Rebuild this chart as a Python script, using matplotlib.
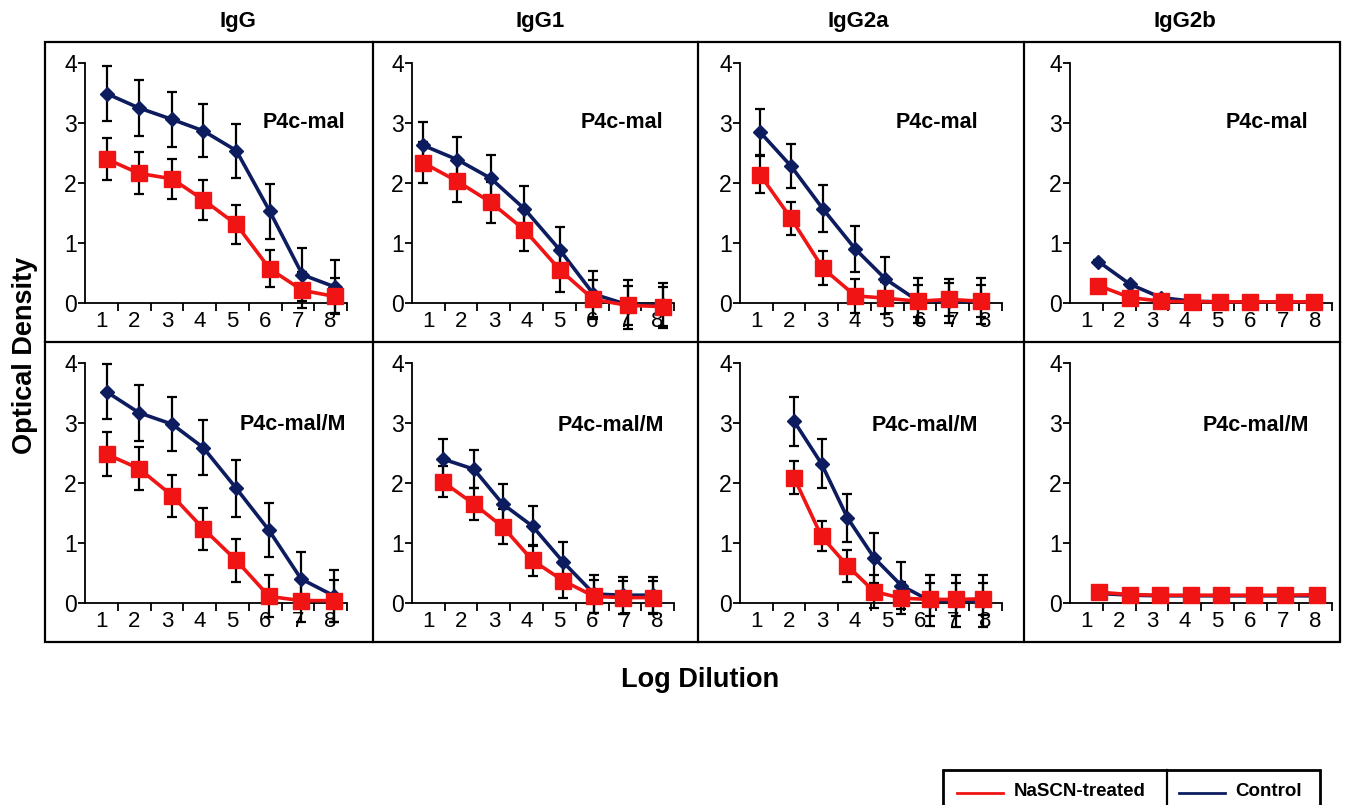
import matplotlib
matplotlib.use("Agg")
import matplotlib.pyplot as plt
from matplotlib.lines import Line2D
from matplotlib.patches import Rectangle

plt.rcParams['font.family'] = ['Liberation Sans', 'DejaVu Sans']

# isotype columns and antigen rows
isotypes = ["IgG", "IgG1", "IgG2a", "IgG2b"]
antigens = ["P4c-mal", "P4c-mal/M"]
dilution_labels = ["1", "2", "3", "4", "5", "6", "7", "8"]

# x position of the 8 points in each panel (per panel)
x_top = [
    [1.16, 2.15, 3.16, 4.11, 5.12, 6.14, 7.14, 8.12],
    [0.83, 1.88, 2.90, 3.93, 5.02, 6.04, 7.09, 8.17],
    [1.11, 2.06, 3.03, 4.02, 4.94, 5.92, 6.88, 7.86],
    [1.37, 2.34, 3.28, 4.22, 5.09, 6.01, 7.03, 7.95],
]
x_bottom = [
    [1.16, 2.15, 3.16, 4.11, 5.12, 6.12, 7.10, 8.10],
    [1.44, 2.39, 3.27, 4.18, 5.12, 6.06, 6.93, 7.85],
    [2.15, 2.99, 3.78, 4.60, 5.43, 6.29, 7.10, 7.92],
    [1.39, 2.34, 3.26, 4.19, 5.11, 6.13, 7.05, 8.05],
]

# control (blue) optical density and SEM
ctrl_top = [
    [3.49, 3.25, 3.06, 2.87, 2.54, 1.53, 0.47, 0.27],
    [2.63, 2.39, 2.08, 1.57, 0.88, 0.15, -0.03, -0.04],
    [2.85, 2.28, 1.57, 0.90, 0.40, 0.04, 0.03, 0.03],
    [0.69, 0.31, 0.09, 0.03, 0.02, 0.02, 0.02, 0.02],
]
ctrl_top_err = [
    [0.46, 0.46, 0.46, 0.44, 0.45, 0.46, 0.44, 0.44],
    [0.39, 0.38, 0.39, 0.38, 0.39, 0.39, 0.41, 0.37],
    [0.39, 0.37, 0.39, 0.39, 0.37, 0.38, 0.37, 0.38],
    [0.03, 0.03, 0.02, 0.02, 0.02, 0.02, 0.02, 0.02],
]
ctrl_bottom = [
    [3.52, 3.17, 2.98, 2.59, 1.91, 1.21, 0.40, 0.12],
    [2.40, 2.23, 1.65, 1.28, 0.68, 0.15, 0.13, 0.13],
    [3.03, 2.32, 1.42, 0.75, 0.29, 0.04, 0.03, 0.03],
    [0.16, 0.13, 0.12, 0.12, 0.12, 0.12, 0.12, 0.12],
]
ctrl_bottom_err = [
    [0.46, 0.47, 0.45, 0.46, 0.47, 0.45, 0.45, 0.43],
    [0.33, 0.32, 0.34, 0.33, 0.33, 0.32, 0.31, 0.30],
    [0.41, 0.41, 0.40, 0.42, 0.39, 0.42, 0.43, 0.43],
    [0.02, 0.02, 0.02, 0.02, 0.02, 0.02, 0.02, 0.02],
]

# NaSCN-treated (red) optical density and SEM
nascn_top = [
    [2.40, 2.16, 2.07, 1.72, 1.31, 0.57, 0.21, 0.11],
    [2.34, 2.03, 1.68, 1.22, 0.55, 0.06, -0.04, -0.06],
    [2.14, 1.41, 0.58, 0.12, 0.08, 0.03, 0.06, 0.03],
    [0.29, 0.09, 0.03, 0.02, 0.02, 0.02, 0.02, 0.02],
]
nascn_top_err = [
    [0.35, 0.35, 0.33, 0.33, 0.32, 0.31, 0.30, 0.30],
    [0.34, 0.35, 0.34, 0.35, 0.36, 0.33, 0.33, 0.33],
    [0.31, 0.28, 0.28, 0.28, 0.27, 0.27, 0.28, 0.27],
    [0.02, 0.02, 0.02, 0.02, 0.02, 0.02, 0.02, 0.02],
]
nascn_bottom = [
    [2.48, 2.24, 1.79, 1.24, 0.71, 0.11, 0.04, 0.04],
    [2.02, 1.65, 1.27, 0.71, 0.37, 0.11, 0.09, 0.09],
    [2.09, 1.11, 0.62, 0.19, 0.08, 0.06, 0.06, 0.07],
    [0.18, 0.14, 0.13, 0.13, 0.13, 0.13, 0.13, 0.14],
]
nascn_bottom_err = [
    [0.37, 0.36, 0.35, 0.35, 0.36, 0.35, 0.35, 0.35],
    [0.26, 0.26, 0.29, 0.26, 0.28, 0.27, 0.27, 0.27],
    [0.27, 0.25, 0.27, 0.28, 0.27, 0.27, 0.27, 0.27],
    [0.02, 0.02, 0.02, 0.02, 0.02, 0.02, 0.02, 0.02],
]

RED = "#f01414"
BLUE = "#0c1c5e"
W, H = 1360, 805

fig = plt.figure(figsize=(W / 100, H / 100), dpi=100)

col_left = [85, 412, 740, 1070]
row_top = [63, 363]
ax_w, ax_h = 262, 240
label_pos = [[(7.2, 3.0), (6.9, 3.0), (6.5, 3.0), (6.5, 3.0)],
             [(6.85, 2.97), (6.57, 2.96), (6.16, 2.96), (6.19, 2.96)]]

rows = [
    (x_top, ctrl_top, ctrl_top_err, nascn_top, nascn_top_err),
    (x_bottom, ctrl_bottom, ctrl_bottom_err, nascn_bottom, nascn_bottom_err),
]

for r, (xs, cy, ce, ny, ne) in enumerate(rows):
    for c in range(4):
        ax = fig.add_axes([col_left[c] / W, 1 - (row_top[r] + ax_h) / H,
                           ax_w / W, ax_h / H])
        ax.errorbar(xs[c], cy[c], yerr=ce[c], fmt="none", ecolor="black",
                    elinewidth=1.6, capsize=3.5, capthick=1.6, clip_on=False, zorder=2)
        ax.errorbar(xs[c], ny[c], yerr=ne[c], fmt="none", ecolor="black",
                    elinewidth=1.6, capsize=3.5, capthick=1.6, clip_on=False, zorder=2)
        ax.plot(xs[c], cy[c], color=BLUE, lw=2.6, marker="D", ms=7,
                clip_on=False, zorder=3)
        ax.plot(xs[c], ny[c], color=RED, lw=2.6, marker="s", ms=11,
                clip_on=False, zorder=4)

        ax.set_xlim(0.5, 8.5)
        ax.set_ylim(0, 4)
        for s in ["top", "right"]:
            ax.spines[s].set_visible(False)
        for s in ["left", "bottom"]:
            ax.spines[s].set_linewidth(1.3)
        ax.set_yticks([0, 1, 2, 3, 4])
        ax.set_xticks(range(1, 9))
        ax.set_xticklabels(dilution_labels)
        ax.set_xticks([1.5 + i for i in range(8)], minor=True)
        ax.tick_params(axis="x", which="major", length=0, pad=6, labelsize=16)
        ax.tick_params(axis="x", which="minor", length=6, width=1.3, direction="out")
        ax.tick_params(axis="y", length=5, width=1.3, pad=1, labelsize=16.5)
        ax.patch.set_alpha(0)
        tx, ty = label_pos[r][c]
        ax.text(tx, ty, antigens[r], ha="center", va="center",
                fontsize=15.5, fontweight="bold")

# table borders
fig.add_artist(Rectangle((45 / W, 1 - 642 / H), (1340 - 45) / W, 600 / H,
                         transform=fig.transFigure, fill=False, lw=1.6, ec="black"))
for xv in [373, 698, 1024]:
    fig.add_artist(Line2D([xv / W, xv / W], [1 - 42 / H, 1 - 642 / H],
                          transform=fig.transFigure, color="black", lw=1.6))
fig.add_artist(Line2D([45 / W, 1340 / W], [1 - 342 / H, 1 - 342 / H],
                      transform=fig.transFigure, color="black", lw=1.6))

# column titles
for name, xc in zip(isotypes, [238, 540, 858, 1185]):
    fig.text(xc / W, 1 - 22 / H, name, ha="center", va="center",
             fontsize=16, fontweight="bold")

fig.text(25 / W, 1 - 355 / H, "Optical Density", rotation=90, ha="center",
         va="center", fontsize=19.5, fontweight="bold")
fig.text(700 / W, 1 - 680 / H, "Log Dilution", ha="center", va="center",
         fontsize=19.5, fontweight="bold")

# legend box
fig.add_artist(Rectangle((943 / W, 1 - 812 / H), (1320 - 943) / W, 42 / H,
                         transform=fig.transFigure, fill=False, lw=2, ec="black"))
fig.add_artist(Line2D([1167 / W, 1167 / W], [1 - 770 / H, 0],
                      transform=fig.transFigure, color="black", lw=1.6))
fig.add_artist(Line2D([957 / W, 1003 / W], [1 - 793 / H, 1 - 793 / H],
                      transform=fig.transFigure, color=RED, lw=2))
fig.text(1014 / W, 1 - 791 / H, "NaSCN-treated", ha="left", va="center",
         fontsize=13.5, fontweight="bold")
fig.add_artist(Line2D([1179 / W, 1225 / W], [1 - 793 / H, 1 - 793 / H],
                      transform=fig.transFigure, color=BLUE, lw=2))
fig.text(1235 / W, 1 - 791 / H, "Control", ha="left", va="center",
         fontsize=13.5, fontweight="bold")

fig.savefig("out.png", dpi=100)
